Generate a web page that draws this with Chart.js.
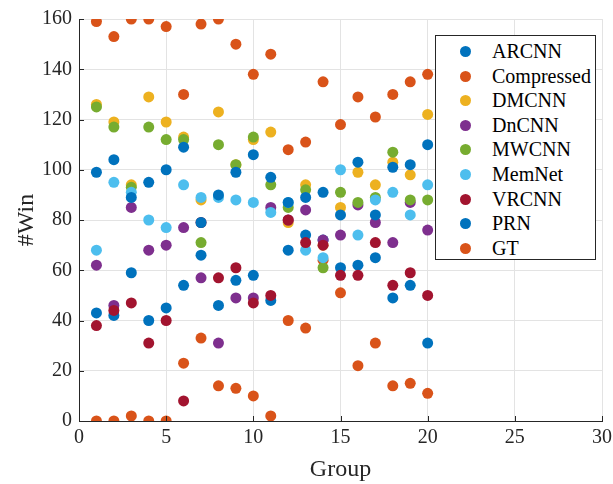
<!DOCTYPE html>
<html>
<head>
<meta charset="utf-8">
<script src="https://cdn.jsdelivr.net/npm/chart.js@4.4.1/dist/chart.umd.min.js"></script>
<style>
    body { margin: 0; background: #fff; }
    #wrap { position: relative; width: 613px; height: 484px; }
    #legend {
        position: absolute; left: 435px; top: 35px; width: 161px; height: 225px;
        border: 1px solid #262626; background: #fff; box-sizing: border-box;
        font-family: 'Liberation Serif', 'Times New Roman', serif; font-size: 20px; color: #000;
    }
    .item { position: absolute; left: 0; height: 24px; line-height: 24px; white-space: nowrap; }
    .dot { position: absolute; left: 24px; top: 7px; width: 11px; height: 11px; border-radius: 50%; }
    .lbl { position: absolute; left: 56px; top: 0; }
</style>
</head>
<body>
<div id="wrap">
    <canvas id="chart" width="613" height="484"></canvas>
    <div id="legend"></div>
</div>
<script>
// Данные
const groups = [1, 2, 3, 4, 5, 6, 7, 8, 9, 10, 11, 12, 13, 14, 15, 16, 17, 18, 19, 20];
const seriesNames = ['ARCNN', 'Compressed', 'DMCNN', 'DnCNN', 'MWCNN', 'MemNet', 'VRCNN', 'PRN', 'GT'];
const seriesColors = ['#0072BD', '#D95319', '#EDB120', '#7E2F8E', '#77AC30', '#4DBEEE', '#A2142F', '#0072BD', '#D95319'];

const arcnn      = [43, 42, 59, 40, 45, 54, 66, 46, 56, 58, 48, 68, 74, 72, 61, 62, 65, 49, 54, 31];
const compressed = [0, 0, 2, 0, 0, 23, 33, 14, 13, 10, 2, 40, 37, 64, 51, 22, 31, 14, 15, 11];
const dmcnn      = [126, 119, 94, 129, 119, 113, 88, 123, 102, 112, 115, 79, 94, 70, 85, 99, 94, 103, 98, 122];
const dncnn      = [62, 46, 85, 68, 70, 77, 57, 31, 49, 49, 85, 80, 84, 72, 74, 86, 79, 71, 87, 76];
const mwcnn      = [125, 117, 93, 117, 112, 112, 71, 110, 102, 113, 94, 85, 92, 61, 91, 87, 89, 107, 88, 88];
const memnet     = [68, 95, 91, 80, 77, 94, 89, 89, 88, 87, 83, 87, 68, 65, 100, 74, 88, 91, 82, 94];
const vrcnn      = [38, 44, 47, 31, 40, 8, 79, 57, 61, 47, 50, 80, 71, 70, 58, 58, 71, 54, 59, 50];
const prn        = [99, 104, 89, 95, 100, 109, 79, 90, 99, 106, 97, 87, 89, 91, 82, 103, 82, 101, 102, 110];
const gt         = [159, 153, 160, 160, 157, 130, 158, 160, 150, 138, 146, 108, 111, 135, 118, 129, 121, 130, 135, 138];

const seriesValues = [arcnn, compressed, dmcnn, dncnn, mwcnn, memnet, vrcnn, prn, gt];

const xTicks = [0, 5, 10, 15, 20, 25, 30];
const yTicks = [0, 20, 40, 60, 80, 100, 120, 140, 160];

const FONT = "'Liberation Serif', 'Times New Roman', serif";
const AXIS_COLOR = '#262626';
const GRID_COLOR = '#e3e3e3';

// Наборы данных (последний рисуется сверху, как в MATLAB)
const datasets = seriesNames.map((name, i) => ({
    label: name,
    data: groups.map((g, j) => ({ x: g, y: seriesValues[i][j] })),
    backgroundColor: seriesColors[i],
    borderWidth: 0,
    pointRadius: 5.5,
    pointHoverRadius: 5.5,
    order: seriesNames.length - i
}));

// Внутренние засечки на осях
const innerTicks = {
    id: 'innerTicks',
    afterDraw(chart) {
        const { ctx, chartArea, scales } = chart;
        ctx.save();
        ctx.strokeStyle = AXIS_COLOR;
        ctx.lineWidth = 1;
        ctx.beginPath();
        yTicks.forEach(v => {
            const y = Math.round(scales.y.getPixelForValue(v)) + 0.5;
            ctx.moveTo(chartArea.left, y);
            ctx.lineTo(chartArea.left + 5, y);
        });
        xTicks.forEach(v => {
            const x = Math.round(scales.x.getPixelForValue(v)) + 0.5;
            ctx.moveTo(x, chartArea.bottom);
            ctx.lineTo(x, chartArea.bottom - 5);
        });
        ctx.stroke();
        ctx.restore();
    }
};

const ctx = document.getElementById('chart').getContext('2d');
const chart = new Chart(ctx, {
    type: 'scatter',
    data: { datasets },
    options: {
        responsive: false,
        animation: false,
        devicePixelRatio: 1,
        layout: { padding: { left: 0, right: 11, top: 18, bottom: 0 } },
        plugins: {
            legend: { display: false },
            tooltip: { enabled: false }
        },
        scales: {
            x: {
                type: 'linear',
                min: 0,
                max: 30,
                afterFit: s => { s.height = 63; s.paddingLeft = 0; s.paddingRight = 0; },
                afterBuildTicks: s => { s.ticks = xTicks.map(v => ({ value: v })); },
                ticks: { color: AXIS_COLOR, font: { family: FONT, size: 20 }, padding: 5, maxRotation: 0 },
                grid: { color: GRID_COLOR, drawTicks: false },
                border: { display: true, color: AXIS_COLOR, width: 1 },
                title: { display: true, text: 'Group', color: AXIS_COLOR, font: { family: FONT, size: 24 }, padding: { top: 0, bottom: 0 } }
            },
            y: {
                type: 'linear',
                min: 0,
                max: 160,
                afterFit: s => { s.width = 79; },
                afterBuildTicks: s => { s.ticks = yTicks.map(v => ({ value: v })); },
                ticks: { color: AXIS_COLOR, font: { family: FONT, size: 20 }, padding: 7 },
                grid: { color: GRID_COLOR, drawTicks: false },
                border: { display: true, color: AXIS_COLOR, width: 1 },
                title: { display: true, text: '#Win', color: AXIS_COLOR, font: { family: FONT, size: 24 }, padding: { top: 12, bottom: 0 } }
            }
        }
    },
    plugins: [innerTicks]
});

// Легенда
const legend = document.getElementById('legend');
legend.innerHTML = seriesNames.map((name, i) => `
    <div class="item" style="top:${3 + i * 24.6}px">
        <span class="dot" style="background:${seriesColors[i]}"></span>
        <span class="lbl">${name}</span>
    </div>
`).join('');
</script>
</body>
</html>
